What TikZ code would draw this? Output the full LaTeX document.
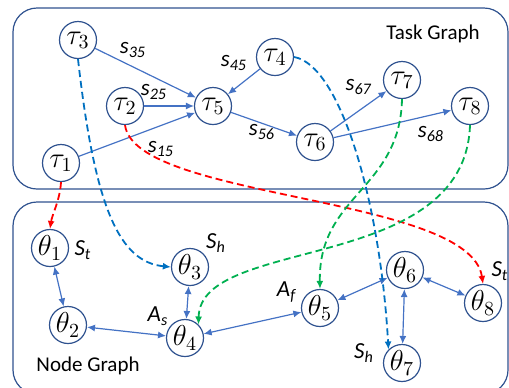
\documentclass[tikz,border=0pt]{standalone}
\usepackage{fontspec}
\setmainfont{Carlito}
\usetikzlibrary{arrows.meta,positioning}
\definecolor{edgeblue}{HTML}{4472C4}
\definecolor{ringblue}{HTML}{2F528F}
\definecolor{mapblue}{HTML}{0070C0}
\definecolor{mapred}{HTML}{FF0000}
\definecolor{mapgreen}{HTML}{00B050}
\newcommand{\lbl}[2]{\textit{#1}\textsubscript{\textit{#2}}}

\begin{document}
\begin{tikzpicture}[x=0.5pt, y=-0.5pt, every node/.style={font=\fontsize{10.5}{12}\selectfont},
  vert/.style={draw=ringblue, circle, minimum size=18.5pt, inner sep=0pt, line width=0.6pt, font=\Large},
  frame/.style={draw=ringblue, rounded corners=12pt, line width=0.6pt},
  arr/.style={-{Latex[length=4pt,width=3.5pt]}, edgeblue, line width=0.6pt},
  dbl/.style={{Latex[length=4pt,width=3.5pt]}-{Latex[length=4pt,width=3.5pt]}, edgeblue, line width=0.6pt},
  map/.style={-{Latex[length=4pt,width=3.5pt]}, dash pattern=on 3.5pt off 2pt, line width=0.9pt},
  lab/.style={inner sep=0pt, font=\fontsize{11.5}{13}\selectfont}]
\useasboundingbox (0,0) rectangle (509,387);
\draw[frame] (13,8) rectangle (508,189);
\draw[frame] (13,202) rectangle (508,394);
\node[inner sep=0pt] (tg) at (433,34) {Task Graph};
\node[inner sep=0pt] (ng) at (88,366) {Node Graph};
\node[vert] (t1) at (61,163) {$\tau_1$};
\node[vert] (t2) at (125,106) {$\tau_2$};
\node[vert] (t3) at (78,40) {$\tau_3$};
\node[vert] (t4) at (275,57) {$\tau_4$};
\node[vert] (t5) at (213,106) {$\tau_5$};
\node[vert] (t6) at (315,142) {$\tau_6$};
\node[vert] (t7) at (402,80) {$\tau_7$};
\node[vert] (t8) at (470,106) {$\tau_8$};
\node[vert] (n1) at (50,248) {$\theta_1$};
\node[vert] (n2) at (68,325) {$\theta_2$};
\node[vert] (n3) at (190,267) {$\theta_3$};
\node[vert] (n4) at (185,338) {$\theta_4$};
\node[vert] (n5) at (320,308) {$\theta_5$};
\node[vert] (n6) at (405,270) {$\theta_6$};
\node[vert] (n7) at (402,363) {$\theta_7$};
\node[vert] (n8) at (483,303) {$\theta_8$};
\node[lab] (s35) at (133,50) {\lbl{s}{35}};
\node[lab] (s25) at (154,92) {\lbl{s}{25}};
\node[lab] (s15) at (161,149) {\lbl{s}{15}};
\node[lab] (s45) at (234,63) {\lbl{s}{45}};
\node[lab] (s56) at (262,132) {\lbl{s}{56}};
\node[lab] (s67) at (359,87) {\lbl{s}{67}};
\node[lab] (s68) at (431,134) {\lbl{s}{68}};
\node[lab] (st1) at (83,250) {\lbl{S}{t}};
\node[lab] (sh3) at (216,243) {\lbl{S}{h}};
\node[lab] (as4) at (158,316) {\lbl{A}{s}};
\node[lab] (af5) at (287,292) {\lbl{A}{f}};
\node[lab] (sh7) at (364,353) {\lbl{S}{h}};
\node[lab] (st8) at (500,271) {\lbl{S}{t}};
\draw[arr] (t3) -- (t5);
\draw[arr] (t2) -- (t5);
\draw[arr] (t1) -- (t5);
\draw[arr] (t4) -- (t5);
\draw[arr] (t5) -- (t6);
\draw[arr] (t6) -- (t7);
\draw[arr] (t6) -- (t8);
\draw[dbl] (n1) -- (n2);
\draw[dbl] (n2) -- (n4);
\draw[dbl] (n3) -- (n4);
\draw[dbl] (n4) -- (n5);
\draw[dbl] (n5) -- (n6);
\draw[dbl] (n6) -- (n7);
\draw[dbl] (n6) -- (n8);
\draw[map, mapred] (t1.south) .. controls (60,200) and (52,215) .. (n1.north);
\draw[map, mapred] (t2.south) .. controls (135,200) and (470,195) .. (n8.north);
\draw[map, mapblue] (t3.south) .. controls (95,210) and (120,262) .. (n3.west);
\draw[map, mapblue] (t4.east) .. controls (340,65) and (380,200) .. (n7.north west);
\draw[map, mapgreen] (t7.south) .. controls (400,190) and (318,195) .. (n5.north);
\draw[map, mapgreen] (t8.south) .. controls (465,275) and (200,235) .. (n4.north east);
\end{tikzpicture}
\end{document}
